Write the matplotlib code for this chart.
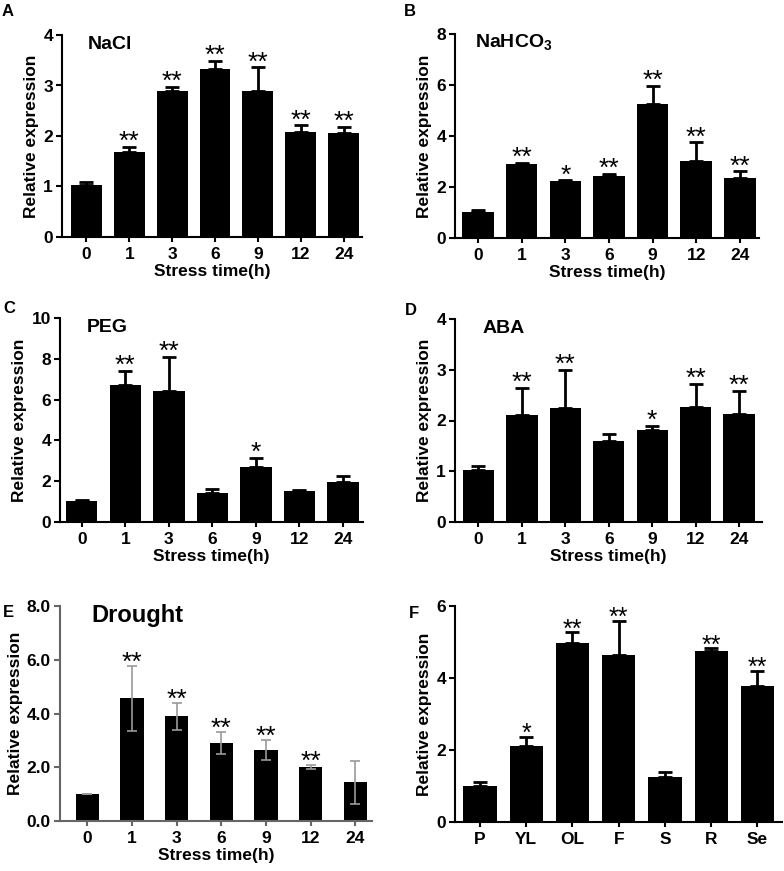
import numpy as np
import matplotlib
matplotlib.use('Agg')
import matplotlib.pyplot as plt

plt.rcParams['font.family'] = ['Liberation Sans', 'DejaVu Sans']
plt.rcParams['font.weight'] = 'bold'
plt.rcParams['mathtext.fontset'] = 'custom'
plt.rcParams['mathtext.rm'] = 'Liberation Sans'
plt.rcParams['mathtext.bf'] = 'Liberation Sans:bold'

# tempos de estresse e tecidos
tempos = ['0', '1', '3', '6', '9', '12', '24']
tecidos = ['P', 'YL', 'OL', 'F', 'S', 'R', 'Se']

# A - NaCl
nacl_media = [1.03, 1.69, 2.89, 3.33, 2.89, 2.07, 2.06]
nacl_erro = [0.06, 0.10, 0.09, 0.16, 0.47, 0.14, 0.12]
nacl_sig = ['', '**', '**', '**', '**', '**', '**']

# B - NaHCO3
nahco3_media = [1.03, 2.90, 2.22, 2.44, 5.25, 3.03, 2.35]
nahco3_erro = [0.08, 0.04, 0.04, 0.08, 0.70, 0.72, 0.26]
nahco3_sig = ['', '**', '*', '**', '**', '**', '**']

# C - PEG
peg_media = [1.05, 6.72, 6.43, 1.43, 2.70, 1.54, 1.97]
peg_erro = [0.05, 0.69, 1.68, 0.19, 0.45, 0.05, 0.28]
peg_sig = ['', '**', '**', '', '*', '', '']

# D - ABA
aba_media = [1.03, 2.11, 2.25, 1.60, 1.81, 2.26, 2.13]
aba_erro = [0.07, 0.54, 0.75, 0.14, 0.09, 0.46, 0.46]
aba_sig = ['', '**', '**', '', '*', '**', '**']

# E - Seca
seca_media = [1.01, 4.56, 3.89, 2.91, 2.64, 2.02, 1.44]
seca_erro = [0.01, 1.22, 0.50, 0.40, 0.38, 0.07, 0.80]
seca_sig = ['', '**', '**', '**', '**', '**', '']

# F - tecidos
tec_media = [1.00, 2.11, 4.98, 4.64, 1.25, 4.75, 3.78]
tec_erro = [0.11, 0.26, 0.29, 0.95, 0.14, 0.07, 0.42]
tec_sig = ['', '*', '**', '**', '', '**', '**']

W, H = 784, 871
fig = plt.figure(figsize=(W / 100, H / 100), dpi=100)


def eixo(l, t, r, b):
    # caixa em pixels -> fracao da figura
    return fig.add_axes([l / W, 1 - b / H, (r - l) / W, (b - t) / H])


def painel(ax, rotulos, media, erro, sig, ymax, passo, xlim, titulo, tx, tsize,
           xlabel=True, seca=False, star_size=19, star_off=-1.5):
    x = np.arange(len(rotulos))
    if seca:
        cor_eixo = '#666666'
        ax.bar(x, media, width=0.52, color='black', zorder=2)
        ax.errorbar(x, media, yerr=erro, fmt='none', ecolor='#9a9a9a',
                    elinewidth=1.2, capsize=3.5, capthick=1.2, zorder=3)
    else:
        cor_eixo = 'black'
        ax.bar(x, media, width=0.72, color='black', zorder=2)
        ax.errorbar(x, media, yerr=[np.zeros(len(x)), erro], fmt='none',
                    ecolor='black', elinewidth=2, capsize=5, capthick=2, zorder=1)
    for xi, m, e, s in zip(x, media, erro, sig):
        if s:
            ax.annotate(s, (xi, m + e), xytext=(0, star_off), textcoords='offset points',
                        ha='center', va='baseline', fontsize=star_size,
                        fontweight='normal')
    ax.set_xlim(*xlim)
    ax.set_ylim(0, ymax)
    ticks = np.arange(0, ymax + 0.01, passo)
    ax.set_yticks(ticks)
    if seca:
        ax.set_yticklabels(['%.1f' % t for t in ticks])
    ax.set_xticks(x)
    ax.set_xticklabels(rotulos)
    for lado in ['top', 'right']:
        ax.spines[lado].set_visible(False)
    for lado in ['left', 'bottom']:
        ax.spines[lado].set_linewidth(1.5)
        ax.spines[lado].set_color(cor_eixo)
    ax.tick_params(axis='both', labelsize=12.5, width=1.5, color=cor_eixo, direction='out')
    ax.tick_params(axis='y', length=4, pad=2.5)
    ax.tick_params(axis='x', length=3.5, pad=4)
    ax.set_ylabel('Relative expression', fontsize=12.5, fontweight='bold', labelpad=3)
    if xlabel:
        ax.set_xlabel('Stress time(h)', fontsize=12.5, fontweight='bold', labelpad=1)
    ax.text(tx, 0.955, titulo, transform=ax.transAxes, fontsize=tsize,
            fontweight='bold', ha='left', va='center')


axA = eixo(62, 35, 362, 237)
painel(axA, tempos, nacl_media, nacl_erro, nacl_sig, 4, 1, (-0.57, 6.43), 'NaCl', 0.087, 14)

axB = eixo(455, 34, 759, 238)
painel(axB, tempos, nahco3_media, nahco3_erro, nahco3_sig, 8, 2, (-0.53, 6.44),
       r'NaHCO$_{\mathbf{3}}$', 0.066, 14)

axC = eixo(60, 318, 363, 522)
painel(axC, tempos, peg_media, peg_erro, peg_sig, 10, 2, (-0.5, 6.46), 'PEG', 0.089, 14)

axD = eixo(455, 319, 762, 522)
painel(axD, tempos, aba_media, aba_erro, aba_sig, 4, 1, (-0.54, 6.53), 'ABA', 0.089, 14)

axE = eixo(60, 606, 372, 821)
painel(axE, tempos, seca_media, seca_erro, seca_sig, 8, 2, (-0.61, 6.37), 'Drought', 0.10, 17,
       seca=True, star_off=-3)

axF = eixo(455, 606, 782, 822)
painel(axF, tecidos, tec_media, tec_erro, tec_sig, 6, 2, (-0.54, 6.53), '', 0.1, 14,
       xlabel=False, star_size=18, star_off=-3)

# letras dos paineis
for letra, px, py in [('A', 2, 16), ('B', 404, 16), ('C', 3, 313), ('D', 405, 315),
                      ('E', 3, 617), ('F', 409, 618)]:
    fig.text(px / W, 1 - py / H, letra, fontsize=12, fontweight='bold',
             ha='left', va='baseline')

fig.savefig('out.png', dpi=100)
